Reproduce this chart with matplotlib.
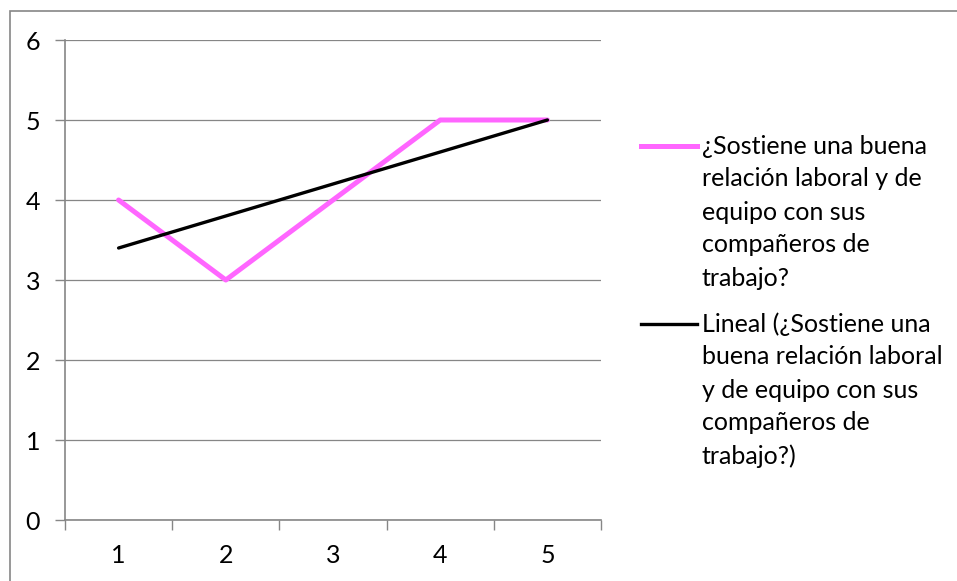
import matplotlib
matplotlib.use("Agg")
import matplotlib.pyplot as plt
import numpy as np
from matplotlib.lines import Line2D
from matplotlib.patches import Rectangle

# Survey answers per respondent
categories = [1, 2, 3, 4, 5]
values = [4, 3, 4, 5, 5]
series_lines = ["¿Sostiene una buena", "relación laboral y de", "equipo con sus",
                "compañeros de", "trabajo?"]
trend_lines = ["Lineal (¿Sostiene una", "buena relación laboral", "y de equipo con sus",
               "compañeros de", "trabajo?)"]
y_ticks = [0, 1, 2, 3, 4, 5, 6]

W, H = 957, 581
DPI = 100
FONT = "Lato"
FS = 18
GRID = "#868686"
PINK = "#FF66FF"
PINK_LW = 3.6
TREND_LW = 2.4

plt.rcParams["font.family"] = FONT

fig = plt.figure(figsize=(W / DPI, H / DPI), dpi=DPI)

def fx(px):
    return px / W

def fy(py):
    return 1 - py / H

# Chart frame
fig.patches.append(Rectangle((fx(9.5), fy(1000)), fx(2000), fy(11) - fy(1000),
                             transform=fig.transFigure, fill=False,
                             edgecolor=GRID, linewidth=1.2))

ax = fig.add_axes([fx(65), fy(520), fx(601) - fx(65), fy(40) - fy(520)])

x = np.array(categories, dtype=float)
y = np.array(values, dtype=float)
slope, intercept = np.polyfit(x, y, 1)
trend = slope * x + intercept

ax.plot(x, y, color=PINK, linewidth=PINK_LW, solid_joinstyle="round",
        solid_capstyle="round", zorder=3)
ax.plot(x, trend, color="black", linewidth=TREND_LW, solid_capstyle="round", zorder=4)

ax.set_xlim(0.5, 5.5)
ax.set_ylim(0, 6)
ax.set_yticks(y_ticks)
ax.set_yticklabels([str(t) for t in y_ticks], fontsize=FS)
ax.set_xticks(categories)
ax.set_xticklabels([str(c) for c in categories], fontsize=FS)
ax.set_xticks(np.arange(0.5, 5.6, 1.0), minor=True)

ax.tick_params(axis="x", which="major", length=0, pad=17)
ax.tick_params(axis="x", which="minor", length=7, width=1, color=GRID, direction="out")
ax.tick_params(axis="y", which="major", length=7, width=1, color=GRID, pad=11)

ax.yaxis.grid(True, color=GRID, linewidth=0.9)
ax.set_axisbelow(True)
for side in ("top", "right"):
    ax.spines[side].set_visible(False)
for side in ("left", "bottom"):
    ax.spines[side].set_color(GRID)
    ax.spines[side].set_linewidth(1.2)

# Legend drawn in figure space
def legend_entry(y0, color, lw, lines):
    fig.add_artist(Line2D([fx(641), fx(697)], [fy(y0), fy(y0)], color=color,
                          linewidth=lw, transform=fig.transFigure))
    for i, t in enumerate(lines):
        fig.text(fx(702), fy(y0 + i * 33), t, fontsize=FS, va="center", ha="left")

legend_entry(146, PINK, PINK_LW, series_lines)
legend_entry(324, "black", TREND_LW, trend_lines)

fig.savefig("out.png", dpi=DPI)
